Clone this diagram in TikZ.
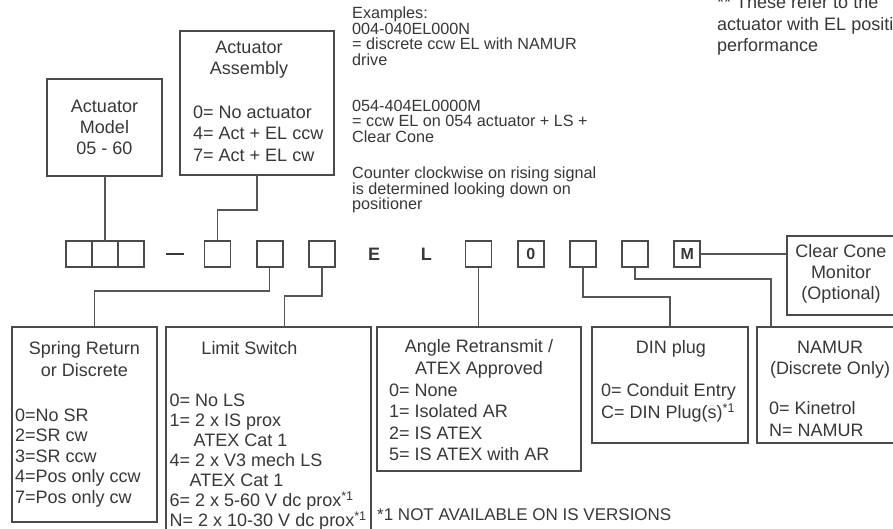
\documentclass[tikz,border=0pt]{standalone}
\usepackage{fontspec}
\setmainfont{Liberation Sans}
\usetikzlibrary{positioning}
\definecolor{inkgrey}{HTML}{383838}
\definecolor{framegrey}{HTML}{4A4A4A}
\definecolor{wiregrey}{HTML}{555555}
\tikzset{
  frame/.style={draw=framegrey, line width=1.7pt, inner sep=0pt, outer sep=0pt},
  panel/.style={frame, anchor=north west},
  cell/.style={frame, minimum size=26pt, text=inkgrey,
               font=\fontsize{16}{16}\selectfont\bfseries},
  letter/.style={inner sep=0pt, outer sep=0pt, minimum size=26pt, text=inkgrey,
                 font=\fontsize{18}{18}\selectfont\bfseries},
  txt/.style={inner sep=0pt, text=inkgrey, font=\fontsize{18}{21}\selectfont},
  head/.style={txt, align=center, anchor=north},
  items/.style={txt, align=left, anchor=north west},
  note/.style={inner sep=0pt, text=inkgrey, align=left, anchor=north west,
               font=\fontsize{16.2}{15.7}\selectfont},
  wire/.style={draw=wiregrey, line width=1.5pt},
}

\begin{document}
\begin{tikzpicture}[x=1pt, y=-1pt]
\useasboundingbox (0,0) rectangle (893,529);
\fill[white] (0,0) rectangle (893,529);
\clip (0,0) rectangle (893,529);

% ---------------------------------------------------------------- code row
\node[cell] (c1) at (79,254) {};
\node[cell, right=0pt of c1] (c2) {};
\node[cell, right=0pt of c2] (c3) {};
\node[inner sep=0pt, text=inkgrey] (dash) at (175,254) {\rule{18pt}{2pt}};
\node[cell] (d1) at (217.5,254) {};
\node[cell,   right=26.2pt of d1] (d2) {};
\node[cell,   right=26.2pt of d2] (d3) {};
\node[letter, right=26.2pt of d3] (e) {E};
\node[letter, right=26.2pt of e]  (l) {L};
\node[cell,   right=26.2pt of l]  (d4) {};
\node[cell,   right=26.2pt of d4] (zero) {0};
\node[cell,   right=26.2pt of zero] (d6) {};
\node[cell,   right=26.2pt of d6] (d7) {};
\node[cell,   right=26.2pt of d7] (mark) {M};

% ---------------------------------------------------------------- upper panels
\node[panel, minimum width=115pt, minimum height=97pt] (model) at (47,79) {};
\node[txt, align=center] (modeltxt) at (model.center) {Actuator\\Model\\05 - 60};

\node[panel, minimum width=154pt, minimum height=144pt] (assembly) at (180,31) {};
\node[head] (assemblyhd) at (249,40.5) {Actuator\\Assembly};
\node[items, font=\fontsize{18}{21.5}\selectfont] (assemblyls) at (193,105.5)
  {0= No actuator\\4= Act + EL ccw\\7= Act + EL cw};

\node[note] (ex1) at (352,6.5)
  {Examples:\\004-040EL000N\\= discrete ccw EL with NAMUR\\drive};
\node[note] (ex2) at (352,99.5)
  {054-404EL0000M\\= ccw EL on 054 actuator + LS +\\Clear Cone};
\node[note] (ex3) at (352,166.5)
  {Counter clockwise on rising signal\\is determined looking down on\\positioner};

\node[items, font=\fontsize{18}{21.5}\selectfont] (remark) at (717,-4.5)
  {** These refer to the\\actuator with EL positioner\\performance};

\node[panel, minimum width=170pt, minimum height=79pt] (cone) at (787,236) {};
\node[txt, align=center] (conetxt) at (841,274) {Clear Cone\\Monitor\\(Optional)};

% ---------------------------------------------------------------- lower panels
\node[panel, minimum width=145pt, minimum height=195pt] (spring) at (12,327) {};
\node[head, font=\fontsize{18}{22}\selectfont] (springhd) at (84.5,341.5)
  {Spring Return\\or Discrete};
\node[items, font=\fontsize{18}{20.5}\selectfont] (springls) at (15,408.5)
  {0=No SR\\2=SR cw\\3=SR ccw\\4=Pos only ccw\\7=Pos only cw};

\node[panel, minimum width=205pt, minimum height=215pt] (limit) at (166,327) {};
\node[head] (limithd) at (249.5,341.5) {Limit Switch};
\node[items, font=\fontsize{18}{20}\selectfont] (limitls) at (169.5,393.5)
  {0= No LS\\1= 2 x IS prox\\\hspace*{24pt}ATEX Cat 1\\4= 2 x V3 mech LS\\
   \hspace*{20pt}ATEX Cat 1\\6= 2 x 5-60 V dc prox\textsuperscript{*1}\\
   N= 2 x 10-30 V dc prox\textsuperscript{*1}};

\node[panel, minimum width=204pt, minimum height=144pt] (angle) at (377,327) {};
\node[head, font=\fontsize{18}{22}\selectfont] (anglehd) at (479,339.5)
  {Angle Retransmit /\\ATEX Approved};
\node[items, font=\fontsize{18}{21.5}\selectfont] (anglels) at (389,383.5)
  {0= None\\1= Isolated AR\\2= IS ATEX\\5= IS ATEX with AR};

\node[panel, minimum width=156pt, minimum height=116pt] (din) at (592,327) {};
\node[head] (dinhd) at (671,340.5) {DIN plug};
\node[items, font=\fontsize{18}{22}\selectfont] (dinls) at (601,383.5)
  {0= Conduit Entry\\C= DIN Plug(s)\textsuperscript{*1}};

\node[panel, minimum width=200pt, minimum height=116pt] (namur) at (757,327) {};
\node[head, font=\fontsize{18}{21.5}\selectfont] (namurhd) at (830,340.5)
  {NAMUR\\(Discrete Only)};
\node[items, font=\fontsize{18}{22}\selectfont] (namurls) at (769,401.5)
  {0= Kinetrol\\N= NAMUR};

\node[txt, anchor=west, font=\fontsize{17}{17}\selectfont] (footnote) at (377,515)
  {*1 NOT AVAILABLE ON IS VERSIONS};

% ---------------------------------------------------------------- wires
\draw[wire] (c2.north) -- (c2.north |- model.south);
\draw[wire] (assembly.south) -- ++(0,35) -| (d1.north);
\draw[wire] (d2.south) -- ++(0,24) -| ([xshift=10pt]spring.north);
\draw[wire] (d3.south) -- ++(0,29) -| ([xshift=16pt]limit.north);
\draw[wire] (d4.south) -- (d4.south |- angle.north);
\draw[wire] (d6.south) -- ++(0,30) -| (din.north);
\draw[wire] (d7.south) -- ++(0,12) -| ([xshift=14pt]namur.north west);
\draw[wire] (mark.east) -- (mark.east -| cone.west);

\end{tikzpicture}
\end{document}
